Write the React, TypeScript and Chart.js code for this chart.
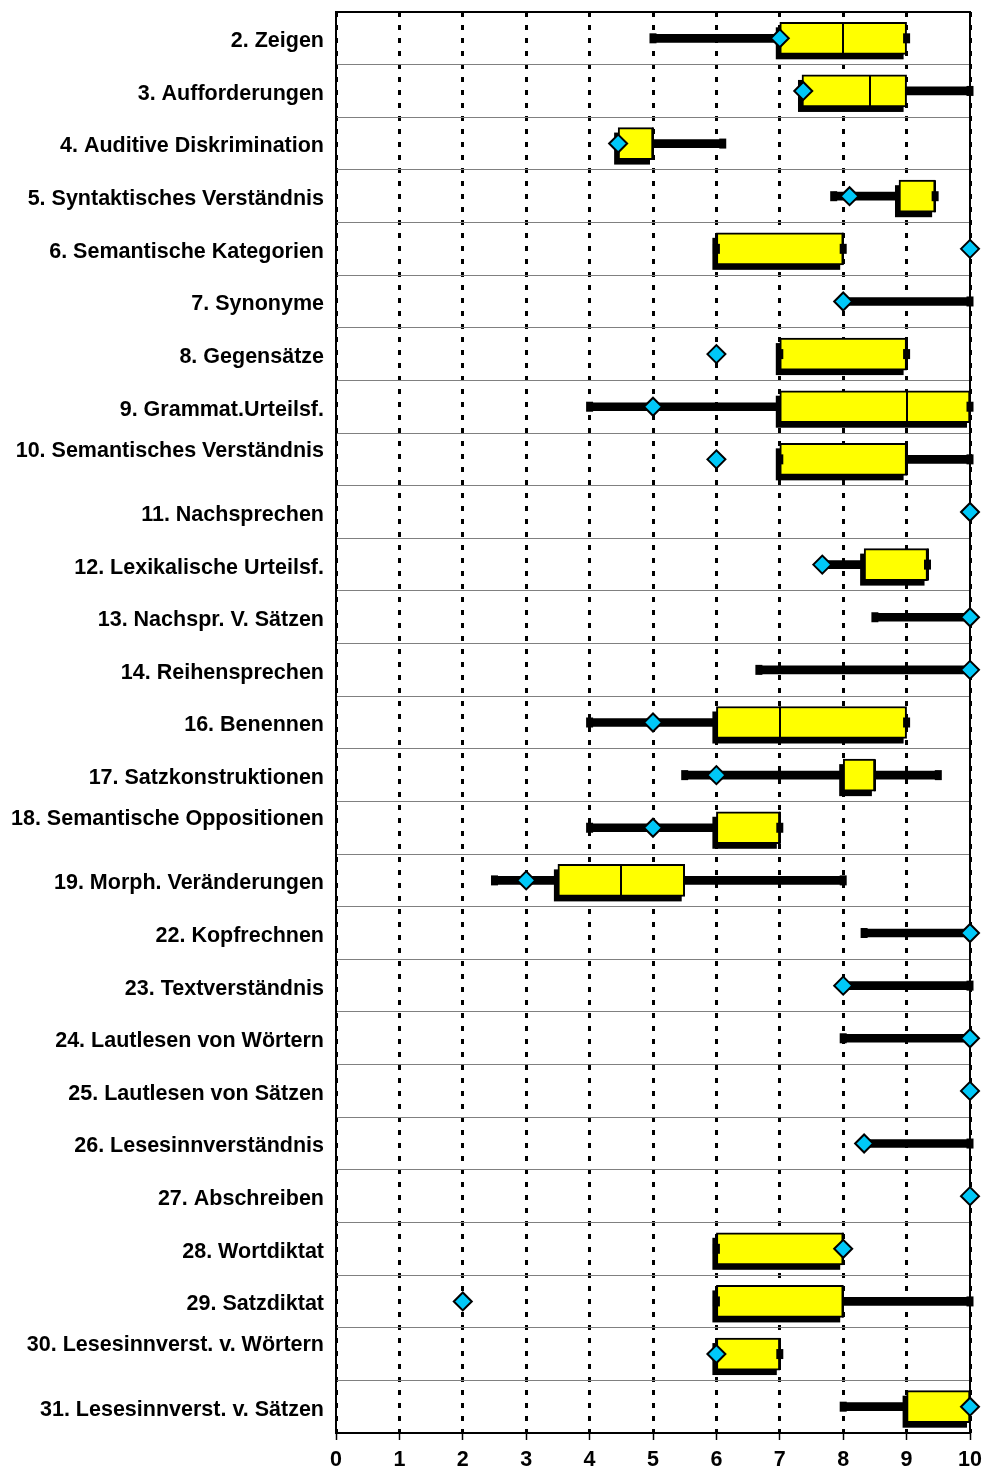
import React, { useEffect, useRef } from 'react';
import { Chart, registerables } from 'chart.js';

Chart.register(...registerables);

const categories = [
  '2. Zeigen',
  '3. Aufforderungen',
  '4. Auditive Diskrimination',
  '5. Syntaktisches Verständnis',
  '6. Semantische Kategorien',
  '7. Synonyme',
  '8. Gegensätze',
  '9. Grammat.Urteilsf.',
  '10. Semantisches Verständnis',
  '11. Nachsprechen',
  '12. Lexikalische Urteilsf.',
  '13. Nachspr. V. Sätzen',
  '14. Reihensprechen',
  '16. Benennen',
  '17. Satzkonstruktionen',
  '18. Semantische Oppositionen',
  '19. Morph. Veränderungen',
  '22. Kopfrechnen',
  '23. Textverständnis',
  '24. Lautlesen von Wörtern',
  '25. Lautlesen von Sätzen',
  '26. Lesesinnverständnis',
  '27. Abschreiben',
  '28. Wortdiktat',
  '29. Satzdiktat',
  '30. Lesesinnverst. v. Wörtern',
  '31. Lesesinnverst. v. Sätzen',
];

// labels that wrap onto a second (empty) line in the original
const wrappedLabels = [
  '10. Semantisches Verständnis',
  '18. Semantische Oppositionen',
  '30. Lesesinnverst. v. Wörtern',
];

const minVals = [5, 7.35, 4.45, 7.85, 6, 8, 7, 4, 7, 10, 7.67, 8.5, 6.67, 4, 5.5, 4, 2.5, 8.33, 8, 8, 10, 8.33, 10, 6, 6, 6, 8];
const q1Vals = [7, 7.35, 4.45, 8.88, 6, 10, 7, 7, 7, 10, 8.33, 10, 10, 6, 8, 6, 3.5, 10, 10, 10, 10, 10, 10, 6, 6, 6, 9];
const medianVals = [8, 8.42, 5, 9.45, 8, 10, 9, 9, 9, 10, 9.33, 10, 10, 7, 8.5, 7, 4.5, 10, 10, 10, 10, 10, 10, 8, 8, 7, 10];
const q3Vals = [9, 9, 5, 9.45, 8, 10, 9, 10, 9, 10, 9.33, 10, 10, 9, 8.5, 7, 5.5, 10, 10, 10, 10, 10, 10, 8, 8, 7, 10];
const maxVals = [9, 10, 6.1, 9.45, 8, 10, 9, 10, 10, 10, 9.33, 10, 10, 9, 9.5, 7, 8, 10, 10, 10, 10, 10, 10, 8, 10, 7, 10];
const patientVals = [7, 7.37, 4.45, 8.1, 10, 8, 6, 5, 6, 10, 7.67, 10, 10, 5, 6, 5, 3, 10, 8, 10, 10, 8.33, 10, 8, 2, 6, 10];

const xTickValues = [0, 1, 2, 3, 4, 5, 6, 7, 8, 9, 10];

const FONT = "'Liberation Sans', Arial, Helvetica, sans-serif";

const boxExtras = {
  id: 'boxExtras',
  beforeDatasetsDraw(chart: any) {
    const { ctx, chartArea } = chart;
    ctx.save();
    ctx.strokeStyle = '#000';
    ctx.lineWidth = 2;
    ctx.strokeRect(chartArea.left, chartArea.top, chartArea.right - chartArea.left, chartArea.bottom - chartArea.top);
    ctx.restore();
  },
  beforeDatasetDraw(chart: any, args: any) {
    if (args.meta.label !== 'box') return;
    const { ctx } = chart;
    ctx.save();
    ctx.fillStyle = '#000';
    args.meta.data.forEach((bar: any, i: number) => {
      if (q3Vals[i] <= q1Vals[i]) return;
      const p = bar.getProps(['x', 'y', 'base', 'height'], true);
      const left = Math.min(p.x, p.base);
      const w = Math.abs(p.x - p.base);
      ctx.fillRect(left - 4, p.y - p.height / 2 + 5, w + 1, p.height);
    });
    ctx.restore();
  },
  afterDatasetDraw(chart: any, args: any) {
    if (args.meta.label !== 'box') return;
    const { ctx } = chart;
    const xs = chart.scales.x;
    ctx.save();
    ctx.strokeStyle = '#000';
    ctx.lineWidth = 2;
    args.meta.data.forEach((bar: any, i: number) => {
      if (q3Vals[i] <= q1Vals[i]) return;
      const p = bar.getProps(['y', 'height'], true);
      const mx = Math.round(xs.getPixelForValue(medianVals[i]));
      ctx.beginPath();
      ctx.moveTo(mx, p.y - p.height / 2);
      ctx.lineTo(mx, p.y + p.height / 2);
      ctx.stroke();
    });
    ctx.restore();
  },
};

export default function App() {
  const ref = useRef<HTMLCanvasElement | null>(null);

  useEffect(() => {
    if (!ref.current) return;
    const labels = categories.map((c) => (wrappedLabels.includes(c) ? [c, ''] : c));
    const hasWhisker = (i: number) => maxVals[i] > minVals[i];
    const whiskerData = categories.map((_, i) => (hasWhisker(i) ? [minVals[i], maxVals[i]] : null));
    const boxData = categories.map((_, i) => (q3Vals[i] > q1Vals[i] ? [q1Vals[i], q3Vals[i]] : null));
    const capMinData = categories.map((_, i) => (hasWhisker(i) ? minVals[i] : null));
    const capMaxData = categories.map((_, i) => (hasWhisker(i) ? maxVals[i] : null));

    const capStyle = {
      type: 'scatter',
      pointStyle: 'line',
      rotation: 90,
      pointRadius: 5,
      borderColor: '#000',
      borderWidth: 7,
      clip: false,
      order: 2,
    };

    const chart = new Chart(ref.current, {
      type: 'bar',
      data: {
        labels: labels as any,
        datasets: [
          {
            type: 'scatter',
            label: 'patient',
            data: patientVals,
            pointStyle: 'rectRot',
            pointRadius: 9,
            backgroundColor: '#00C8F8',
            borderColor: '#000',
            borderWidth: 2,
            clip: false,
            order: 1,
          } as any,
          { ...capStyle, label: 'capMin', data: capMinData } as any,
          { ...capStyle, label: 'capMax', data: capMaxData } as any,
          {
            type: 'bar',
            label: 'box',
            data: boxData as any,
            backgroundColor: '#FFFF00',
            borderColor: '#000',
            borderWidth: 2,
            borderSkipped: false,
            barThickness: 32,
            grouped: false,
            order: 3,
          } as any,
          {
            type: 'bar',
            label: 'whisker',
            data: whiskerData as any,
            backgroundColor: '#000',
            borderWidth: 0,
            barThickness: 8,
            grouped: false,
            order: 4,
          } as any,
        ],
      },
      options: {
        indexAxis: 'y',
        animation: false,
        responsive: true,
        maintainAspectRatio: false,
        layout: { padding: { left: 0, top: 10, right: 26, bottom: 0 } },
        plugins: {
          legend: { display: false },
          tooltip: { enabled: false },
        },
        scales: {
          x: {
            type: 'linear',
            min: 0,
            max: 10,
            afterBuildTicks: (scale: any) => {
              scale.ticks = xTickValues.map((v) => ({ value: v }));
            },
            afterFit: (scale: any) => {
              scale.height = 37;
              scale.paddingLeft = 0;
              scale.paddingRight = 0;
            },
            grid: {
              color: '#000',
              lineWidth: 3,
              drawTicks: true,
              tickLength: 7,
              tickBorderDash: [],
              tickColor: '#000',
              tickWidth: 1.5,
            },
            border: { display: false, dash: [5, 8] },
            ticks: {
              color: '#000',
              padding: 7,
              font: { family: FONT, size: 21.5, weight: 'bold' },
            },
          },
          y: {
            type: 'category',
            offset: true,
            afterFit: (scale: any) => {
              scale.width = 336;
              scale.paddingTop = 0;
              scale.paddingBottom = 0;
            },
            grid: {
              offset: true,
              color: '#808080',
              lineWidth: 1,
              drawTicks: false,
            },
            border: { display: false },
            ticks: {
              color: '#000',
              padding: 12,
              autoSkip: false,
              labelOffset: 3,
              font: { family: FONT, size: 21.5, weight: 'bold', lineHeight: '23px' },
            },
          },
        },
      } as any,
      plugins: [boxExtras],
    });
    return () => chart.destroy();
  }, []);

  return (
    <div style={{ position: 'fixed', left: 0, top: 0, width: 996, height: 1470, background: '#fff' }}>
      <canvas ref={ref} />
    </div>
  );
}
